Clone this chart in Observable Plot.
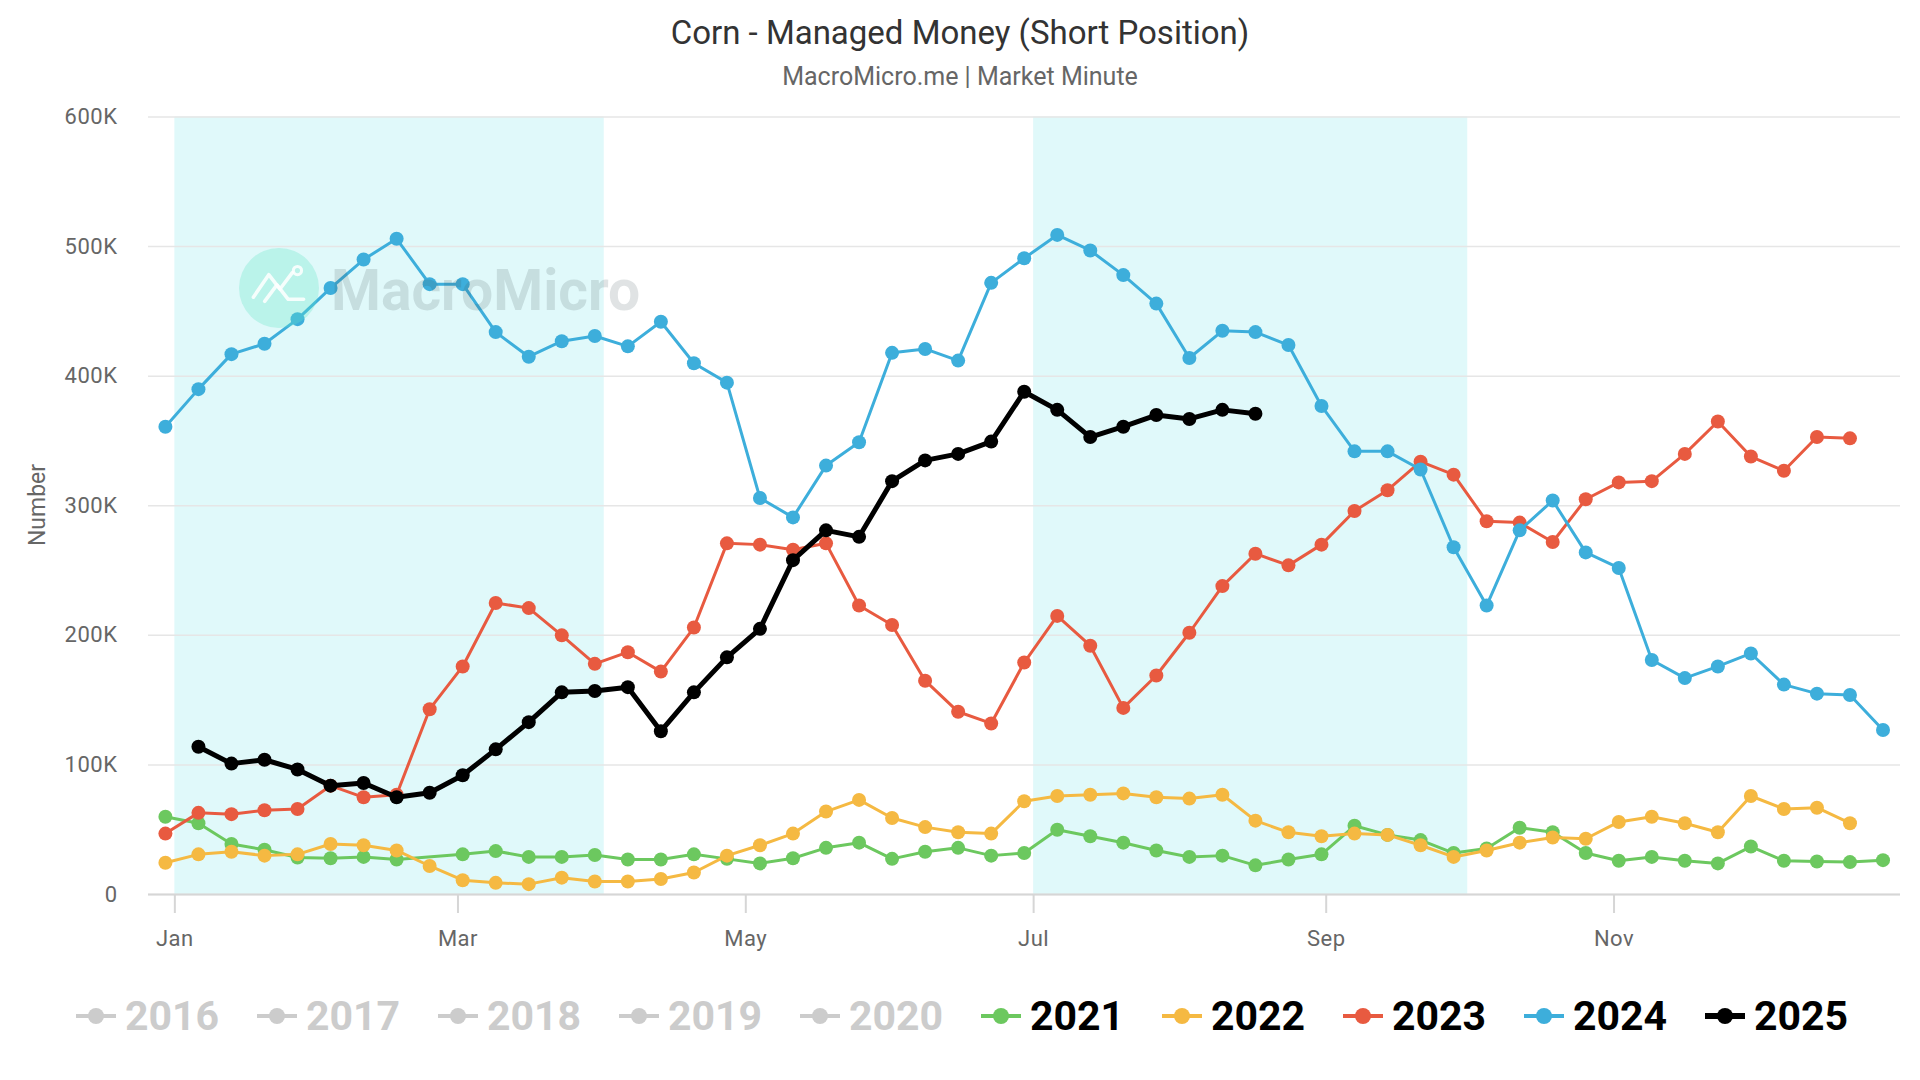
<!DOCTYPE html>
<html>
<head>
<meta charset="utf-8">
<script src="https://cdn.jsdelivr.net/npm/d3@7"></script>
<script src="https://cdn.jsdelivr.net/npm/@observablehq/plot@0.6"></script>
<style>
html, body { margin: 0; padding: 0; background: #fff; }
#page { position: relative; width: 1920px; height: 1080px; overflow: hidden; font-family: Roboto, "Noto Sans", sans-serif; }
#title { position: absolute; left: 0; width: 1920px; top: 13px; line-height: 40px; text-align: center; font-size: 33px; color: #333; }
#subtitle { position: absolute; left: 0; width: 1920px; top: 62px; line-height: 30px; text-align: center; font-size: 25px; color: #666; }
#chart { position: absolute; left: 0; top: 100px; }
#ylabel { position: absolute; left: 37px; top: 505px; transform: translate(-50%, -50%) rotate(-90deg); font-size: 23px; color: #666; white-space: nowrap; }
#legend { position: absolute; left: 76px; top: 986px; height: 60px; display: flex; align-items: center; }
.item { width: 181px; display: flex; align-items: center; flex: none; }
.item svg { margin-right: 9px; flex: none; }
.item span { font-size: 41px; font-weight: 700; line-height: 60px; }
#wm-circle { position: absolute; left: 239px; top: 248px; width: 80px; height: 80px; border-radius: 50%; background: rgba(100, 230, 200, 0.3); pointer-events: none; }
#wm-text { position: absolute; left: 331px; top: 262px; font-size: 57px; line-height: 1; font-weight: 700; color: rgba(60, 80, 90, 0.16); pointer-events: none; white-space: nowrap; }
</style>
</head>
<body>
<div id="page">
  <div id="title">Corn - Managed Money (Short Position)</div>
  <div id="subtitle">MacroMicro.me | Market Minute</div>
  <div id="chart"></div>
  <div id="ylabel">Number</div>
  <div id="wm-circle"><svg width="80" height="80" viewBox="0 0 78 78"><polyline points="14,48 29,26 40,40 52,24" fill="none" stroke="rgba(255,255,255,0.85)" stroke-width="3.5" stroke-linecap="round" stroke-linejoin="round"/><polyline points="25,52 37,36 48,50 63,50" fill="none" stroke="rgba(255,255,255,0.85)" stroke-width="3.5" stroke-linecap="round" stroke-linejoin="round"/><circle cx="57" cy="22" r="4" fill="none" stroke="rgba(255,255,255,0.85)" stroke-width="3"/></svg></div>
  <div id="wm-text">MacroMicro</div>
  <div id="legend"></div>
</div>
<script>
// ---- Data (weekly, aligned on a common calendar year) ----
const years = [2021, 2022, 2023, 2024, 2025];
const colors = ["#6cc85f", "#f5b942", "#e85a40", "#3daedb", "#000000"];
const startWeek = [0, 0, 0, 0, 1];
const weekZero = "2023-12-30";

const v2021 = [60000, 55000, 39000, 34500, 28500, 28000, 29000, 27000, null, 31000, 33500, 29000, 29000, 30500, 27000, 27000, 31000, 27500, 24000, 28000, 36000, 40000, 27500, 33000, 36000, 30000, 32000, 50000, 45000, 40000, 34000, 29000, 30000, 22500, 27000, 31000, 53000, 46000, 42000, 32000, 35500, 51500, 48000, 32000, 26000, 29000, 26000, 24000, 37000, 26000, 25500, 25000, 26500];
const v2022 = [24500, 31000, 33000, 30000, 31000, 39000, 38000, 34000, 22000, 11000, 9000, 8000, 13000, 10000, 10000, 12000, 17000, 30000, 38000, 47000, 64000, 73000, 59000, 52000, 48000, 47000, 72000, 76000, 77000, 78000, 75000, 74000, 77000, 57000, 48000, 45000, 47000, 46000, 38000, 29000, 34000, 40000, 44000, 43000, 56000, 60000, 55000, 48000, 76000, 66000, 67000, 55000];
const v2023 = [47000, 63000, 62000, 65000, 66000, 84000, 75000, 77000, 143000, 176000, 225000, 221000, 200000, 178000, 187000, 172000, 206000, 271000, 270000, 266000, 271000, 223000, 208000, 165000, 141000, 132000, 179000, 215000, 192000, 144000, 169000, 202000, 238000, 263000, 254000, 270000, 296000, 312000, 334000, 324000, 288000, 287000, 272000, 305000, 318000, 319000, 340000, 365000, 338000, 327000, 353000, 352000];
const v2024 = [361000, 390000, 417000, 425000, 444000, 468000, 490000, 506000, 471000, 471000, 434000, 415000, 427000, 431000, 423000, 442000, 410000, 395000, 306000, 291000, 331000, 349000, 418000, 421000, 412000, 472000, 491000, 509000, 497000, 478000, 456000, 414000, 435000, 434000, 424000, 377000, 342000, 342000, 328000, 268000, 223000, 281000, 304000, 264000, 252000, 181000, 167000, 176000, 186000, 162000, 155000, 154000, 127000];
const v2025 = [114000, 101000, 104000, 96500, 84000, 86000, 75000, 78500, 92000, 112000, 133000, 156000, 157000, 160000, 126000, 156000, 183000, 205000, 258000, 281000, 276000, 319000, 335000, 340000, 349500, 388000, 374000, 353000, 361000, 370000, 367000, 374000, 371000];
const seriesValues = [v2021, v2022, v2023, v2024, v2025];

const yTicks = [0, 100000, 200000, 300000, 400000, 500000, 600000];
const xTicks = ["2024-01-01", "2024-03-01", "2024-05-01", "2024-07-01", "2024-09-01", "2024-11-01"];
const bandStart = ["2024-01-01", "2024-07-01"];
const bandEnd = ["2024-04-01", "2024-10-01"];
const xDomain = ["2023-12-26T10:00:00Z", "2024-12-31T17:00:00Z"];

const legendYears = [2016, 2017, 2018, 2019, 2020, 2021, 2022, 2023, 2024, 2025];
const legendColors = ["#cccccc", "#cccccc", "#cccccc", "#cccccc", "#cccccc", "#6cc85f", "#f5b942", "#e85a40", "#3daedb", "#000000"];
const legendActive = [false, false, false, false, false, true, true, true, true, true];

// ---- Build ----
const DAY = 864e5;
const base = new Date(weekZero + "T00:00:00Z").getTime();
const bands = bandStart.map((s, i) => ({start: new Date(s), end: new Date(bandEnd[i])}));

const marks = [
  Plot.rect(bands, {x1: "start", x2: "end", y1: 0, y2: 600000, fill: "#e0f9fa"}),
  Plot.ruleY(yTicks, {stroke: "#e6e6e6", strokeWidth: 1.5}),
  Plot.ruleY([0], {stroke: "#d6d6d6", strokeWidth: 2}),
  Plot.axisX({ticks: xTicks.map(d => new Date(d)), tickFormat: d3.utcFormat("%b"), tickSize: 19, tickPadding: 17, stroke: "#d6d6d6", strokeWidth: 2, fill: "#666", label: null}),
  Plot.axisY({ticks: yTicks, tickFormat: d => d === 0 ? "0" : (d / 1000) + "K", tickSize: 0, tickPadding: 31, fill: "#666", label: null})
];

years.forEach((yr, k) => {
  const rows = [];
  seriesValues[k].forEach((v, i) => {
    if (v != null) rows.push({date: new Date(base + (startWeek[k] + i) * 7 * DAY), value: v});
  });
  marks.push(Plot.line(rows, {x: "date", y: "value", stroke: colors[k], strokeWidth: yr === 2025 ? 5 : 3, strokeLinejoin: "round"}));
  marks.push(Plot.dot(rows, {x: "date", y: "value", r: 7, fill: colors[k]}));
});

const chart = Plot.plot({
  width: 1920,
  height: 880,
  marginLeft: 148,
  marginRight: 20,
  marginTop: 16.5,
  marginBottom: 86,
  x: {type: "utc", domain: xDomain.map(d => new Date(d))},
  y: {domain: [0, 600000]},
  style: {fontFamily: "Roboto, 'Noto Sans', sans-serif", fontSize: "22px", letterSpacing: "0.5px", background: "transparent", overflow: "visible"},
  marks
});
document.getElementById("chart").appendChild(chart);

// ---- Legend ----
const legend = document.getElementById("legend");
legendYears.forEach((yr, i) => {
  const item = document.createElement("div");
  item.className = "item";
  const c = legendColors[i];
  const w = yr === 2025 ? 6 : 4;
  item.innerHTML = `<svg width="40" height="24" viewBox="0 0 40 24"><line x1="0" y1="12" x2="40" y2="12" stroke="${c}" stroke-width="${w}"/><circle cx="20" cy="12" r="8" fill="${c}"/></svg><span style="color:${legendActive[i] ? "#000" : "#cccccc"}">${yr}</span>`;
  legend.appendChild(item);
});
</script>
</body>
</html>
